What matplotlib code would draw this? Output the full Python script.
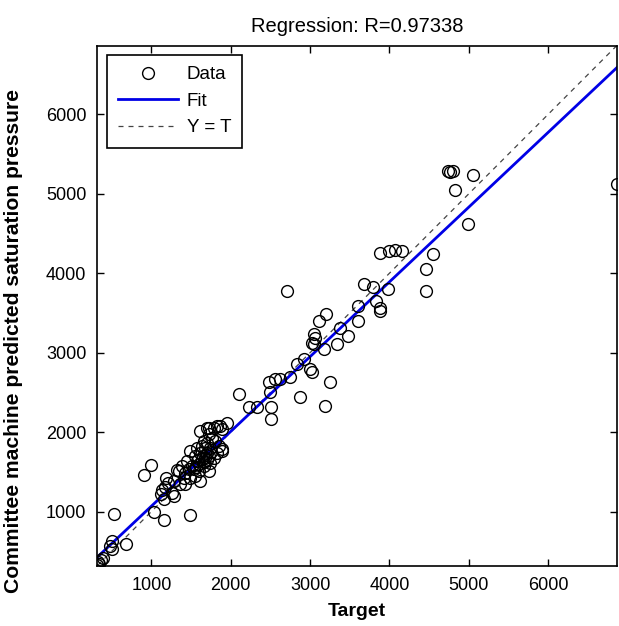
import numpy as np
from matplotlib import pyplot as plt

plt.rcParams['font.family'] = ['Liberation Sans', 'DejaVu Sans']

# values
target = [320, 340, 330, 360, 390, 474, 504, 504, 533, 685,
          903, 996, 1038, 1155, 1122, 1155, 1261, 1189, 1206, 1483,
          1618, 1723, 1828, 1955, 1891, 1723, 1660, 1576, 1492, 1639,
          1807, 1744, 1891, 1555, 1450, 1387, 1324, 1513, 1597, 1660,
          1555, 1618, 1408, 1281, 1177, 1135, 1281, 1366, 1429, 1471,
          1345, 1702, 1786, 1681, 1744, 1576, 1828, 1765, 1702, 1618,
          1849, 1534, 1723, 1492, 1429, 1870, 1786, 1702, 1650, 1700,
          1600, 1750, 1680, 1640, 1720, 1560, 1660, 1891,
          2101, 2227, 2333, 2479, 2501, 2509, 2509, 2564, 2627, 2744, 2715,
          2837, 2921, 2871, 2997, 3026, 3248, 3194, 3047, 3068, 3026,
          3047, 3173, 3110, 3207, 3383, 3475, 3342,
          3607, 3607, 3677, 3796, 3980, 3825, 3879, 3879, 3888, 3992,
          4068, 4153, 4459, 4459, 4552, 4745, 4770, 4800, 4821, 4989,
          5057, 6866]
output = [330, 340, 360, 390, 410, 568, 631, 526, 975, 597,
          1462, 1588, 1000, 895, 1219, 1156, 1239, 1428, 1365, 955,
          2016, 2058, 2079, 2121, 2038, 1975, 1890, 1806, 1764, 1827,
          1890, 1806, 1786, 1701, 1639, 1576, 1521, 1576, 1513, 1576,
          1450, 1387, 1428, 1387, 1311, 1270, 1198, 1345, 1491, 1534,
          1513, 1743, 1680, 1680, 1617, 1639, 1743, 1932, 1869, 1743,
          1827, 1534, 1513, 1428, 1345, 2079, 2058, 2058, 1700, 1650,
          1600, 1750, 1800, 1660, 1700, 1560, 1620, 1764,
          2479, 2319, 2310, 2625, 2499, 2310, 2164, 2667, 2667, 2696, 3777,
          2856, 2919, 2445, 2793, 2751, 2634, 2331, 3234, 3191, 3128,
          3108, 3045, 3402, 3486, 3309, 3213, 3108,
          3591, 3402, 3864, 3830, 3801, 3654, 3569, 3519, 4258, 4275,
          4292, 4275, 4060, 3771, 4242, 5290, 5270, 5290, 5055, 4620,
          5240, 5130]
fit_slope = 0.941
fit_intercept = 127
r_value = 0.97338
axis_min = 320
axis_max = 6866
ticks = [1000, 2000, 3000, 4000, 5000, 6000]


def chart():
    fig = plt.figure(figsize=(6.19, 6.26), dpi=100)
    ax = fig.add_axes([0.1575, 0.0966, 0.8388, 0.8304])

    ends = np.array([axis_min, axis_max])
    ax.plot(target, output, 'o', mfc='none', mec='black', ms=8.5, mew=1.0,
            label='Data', zorder=3)
    ax.plot(ends, fit_slope * ends + fit_intercept, color='#0000e6', lw=2,
            label='Fit', zorder=2)
    ax.plot(ends, ends, '--', color='#444444', lw=0.9, dashes=(4, 4),
            label='Y = T', zorder=1)

    ax.set_xlim(axis_min, axis_max)
    ax.set_ylim(axis_min, axis_max)
    ax.set_xticks(ticks)
    ax.set_yticks(ticks)
    ax.tick_params(direction='in', top=True, right=True, length=5, width=1,
                   labelsize=13, pad=8)
    for sp in ax.spines.values():
        sp.set_linewidth(1.2)

    leg = ax.legend(loc='upper left', fontsize=13.5, fancybox=False,
                    edgecolor='black', framealpha=1, handlelength=3.2,
                    handletextpad=0.45, borderaxespad=0.5, borderpad=0.6,
                    labelspacing=0.5)
    leg.get_frame().set_linewidth(1.2)

    fig.text(357 / 619, 1 - 26 / 626, f'Regression: R={r_value}',
             ha='center', va='center', fontsize=14.5)
    fig.text(357 / 619, 1 - 611 / 626, 'Target', ha='center', va='center',
             fontsize=14, fontweight='bold')
    fig.text(14 / 619, 1 - 341 / 626,
             'Committee machine predicted saturation pressure',
             ha='center', va='center', rotation=90, fontsize=15.2,
             fontweight='bold')

    fig.savefig('out.png', dpi=100)


if __name__ == '__main__':
    chart()
